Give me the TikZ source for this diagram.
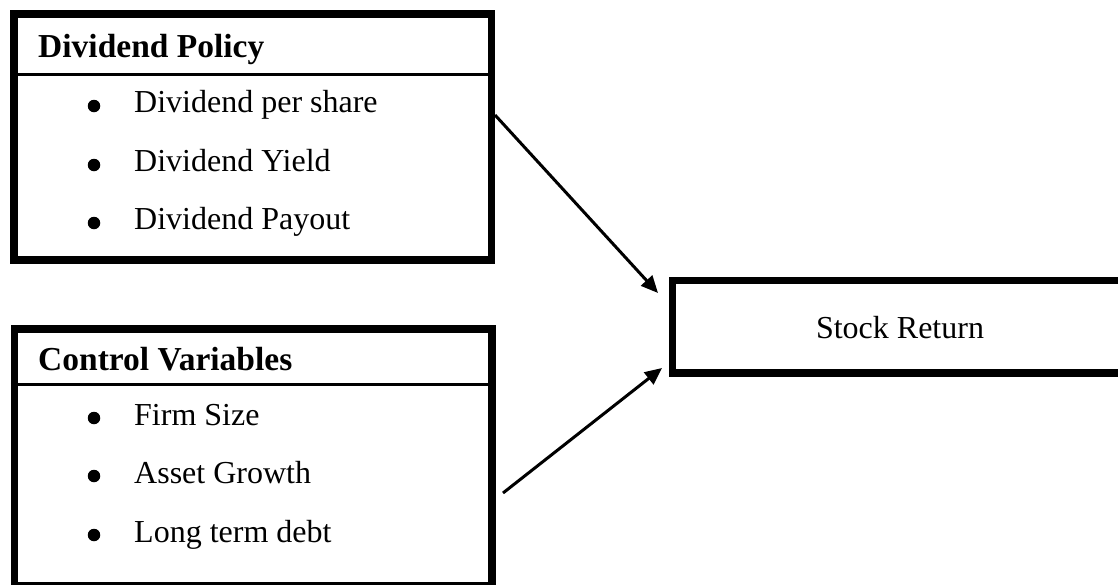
\documentclass[tikz,border=0pt]{standalone}
\usepackage{fontspec}
\setmainfont{Liberation Serif}
\usetikzlibrary{arrows.meta}
\tikzset{
  thickbox/.style={draw=black, line width=7.5pt, rectangle, inner sep=0pt, fill=none},
  divider/.style={draw=black, line width=2.5pt},
  headtext/.style={anchor=base west, inner sep=0pt, font=\fontsize{33.5}{40}\selectfont\bfseries},
  itemtext/.style={anchor=base west, inner sep=0pt, font=\fontsize{32}{38}\selectfont},
  bulletdot/.style={circle, fill=black, inner sep=0pt, minimum size=12.5pt},
  connector/.style={line width=3pt, -{Triangle[length=17pt,width=15pt]}}
}
\begin{document}
\begin{tikzpicture}[x=1pt,y=-1pt]
\useasboundingbox (0,0) rectangle (1118,584);
% boxes
\node[thickbox, minimum width=477.5pt, minimum height=246pt] (dp) at (252.75,137) {};
\node[thickbox, minimum width=477.5pt, minimum height=257pt] (cv) at (253.25,457.5) {};
\node[thickbox, minimum width=452.5pt, minimum height=92.5pt,
      font=\fontsize{32}{38}\selectfont] (sr) at (898.75,326.75) {};
\node[anchor=base, inner sep=0pt, font=\fontsize{32}{38}\selectfont] (srlabel) at (900,338) {Stock Return};
% dividers
\draw[divider] (dp.west |- 0,74.5) -- (dp.east |- 0,74.5);
\draw[divider] (cv.west |- 0,384.5) -- (cv.east |- 0,384.5);
% headers
\node[headtext] (dph) at (38,57) {Dividend Policy};
\node[headtext] (cvh) at (38,370) {Control Variables};
% items box 1
\node[bulletdot] (b1) at (94,106) {};
\node[itemtext] (t1) at (134,112) {Dividend per share};
\node[bulletdot] (b2) at (94,165) {};
\node[itemtext] (t2) at (134,171) {Dividend Yield};
\node[bulletdot] (b3) at (94,223) {};
\node[itemtext] (t3) at (134,229) {Dividend Payout};
% items box 2
\node[bulletdot] (b4) at (94,418) {};
\node[itemtext] (t4) at (134,425) {Firm Size};
\node[bulletdot] (b5) at (94,476) {};
\node[itemtext] (t5) at (134,483) {Asset Growth};
\node[bulletdot] (b6) at (94,535) {};
\node[itemtext] (t6) at (134,542) {Long term debt};
% connectors
\coordinate (a1s) at (495,115);
\coordinate (a1e) at (658,293);
\coordinate (a2s) at (503,493);
\coordinate (a2e) at (662,368);
\draw[connector] (a1s) -- (a1e);
\draw[connector] (a2s) -- (a2e);
\end{tikzpicture}
\end{document}
